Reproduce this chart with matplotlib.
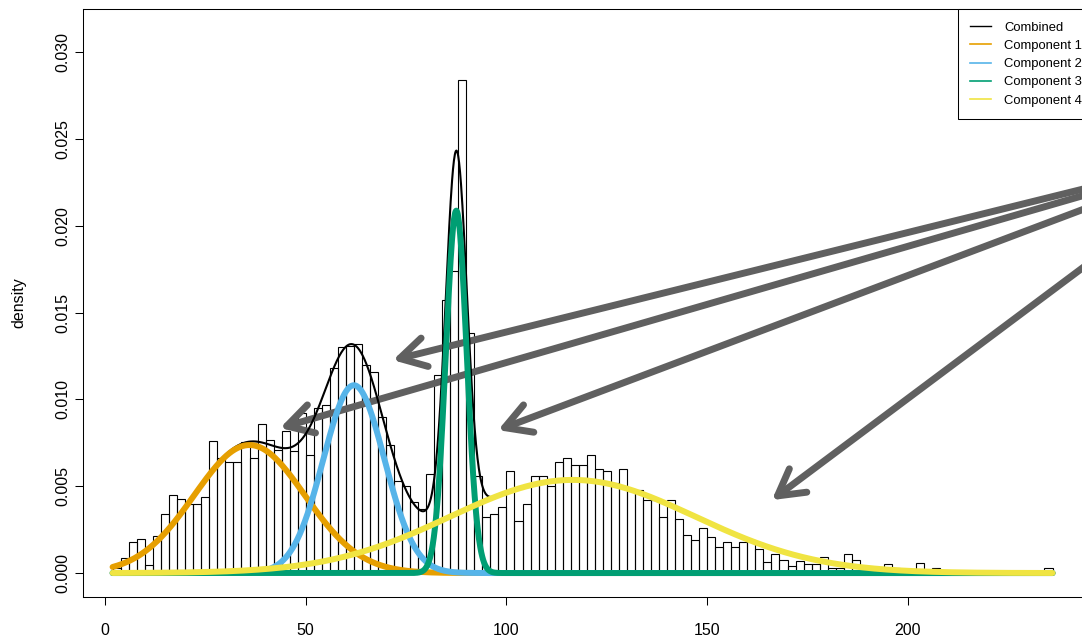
"""
Gaussian mixture fit over a histogram of the raw values, R-style layout.
"""

import matplotlib
matplotlib.use("Agg")
import matplotlib.pyplot as plt
from matplotlib.lines import Line2D
import numpy as np

plt.rcParams.update({
    "font.family": ["Liberation Sans", "DejaVu Sans"],
    "font.size": 11.5,
    "axes.linewidth": 0.75,
})

# histogram: bins of width 2, left edges from 2 to 234
bin_width = 2
bin_left = np.arange(2, 236, bin_width)
density = [
    0.0003, 0.00085, 0.0018, 0.00196, 0.00046, 0.00213, 0.0034, 0.0045,
    0.00424, 0.00395, 0.00395, 0.00436, 0.0076, 0.0066, 0.0064, 0.0064,
    0.00756, 0.0066, 0.0086, 0.00766, 0.0071, 0.0082, 0.0070, 0.0092,
    0.0068, 0.0095, 0.0097, 0.0118, 0.0130, 0.0131, 0.0132, 0.0120,
    0.0116, 0.0090, 0.0074, 0.0053, 0.0050, 0.0041, 0.0037, 0.0057,
    0.0114, 0.0157, 0.0174, 0.0284, 0.0138, 0.0056, 0.0032, 0.0034,
    0.0038, 0.0059, 0.0030, 0.0040, 0.0056, 0.0056, 0.0050, 0.0064,
    0.0066, 0.0062, 0.0062, 0.0068, 0.0060, 0.0059, 0.0052, 0.0060,
    0.0048, 0.0048, 0.0042, 0.0042, 0.0032, 0.0042, 0.0031, 0.0022,
    0.0019, 0.0026, 0.0021, 0.0015, 0.0018, 0.0015, 0.0018, 0.0019,
    0.0014, 0.00065, 0.0011, 0.00075, 0.0004, 0.0007, 0.0005, 0.0005,
    0.0009, 0.0003, 0.0003, 0.0011, 0.00075, 0.0004, 0.0003, 0.0,
    0.0005, 0.0003, 0.0, 0.0, 0.0006, 0.0, 0.0003, 0.0,
    0.0, 0.0, 0.0, 0.0, 0.0, 0.0, 0.0, 0.0,
    0.0, 0.0, 0.0, 0.0, 0.0003,
]

# fitted mixture components (weight, mean, sd)
comp_labels = ["Component 1", "Component 2", "Component 3", "Component 4"]
comp_colors = ["#E69F00", "#56B4E9", "#009E73", "#F0E442"]
comp_weight = [0.255, 0.206, 0.136, 0.410]
comp_mean = [36.0, 62.0, 87.5, 116.5]
comp_sd = [13.8, 7.6, 2.6, 30.5]
data_range = (1.9, 236.0)

# annotation arrows: shared tail off to the right, one tip per feature
arrow_tail = (282.7, 0.02435)
arrow_tip_x = [71.7, 43.6, 97.9, 166.1]
arrow_tip_y = [0.01226, 0.00835, 0.00823, 0.0042]


def normal_pdf(x, mu, sd):
    return np.exp(-0.5 * ((x - mu) / sd) ** 2) / (sd * np.sqrt(2 * np.pi))


W, H = 1082, 637
fig = plt.figure(figsize=(W / 100, H / 100), dpi=100)
ax = fig.add_axes([83 / W, 1 - 597 / H, (1100.7 - 83) / W, (597 - 9) / H])

ax.bar(bin_left, density, width=bin_width, align="edge",
       facecolor="none", edgecolor="black", linewidth=0.8, zorder=1)

for tx, ty in zip(arrow_tip_x, arrow_tip_y):
    ax.annotate("", xy=(tx, ty), xytext=arrow_tail,
                arrowprops=dict(arrowstyle="->, head_length=1.85, head_width=1.05",
                                mutation_scale=10, lw=5, color="#606060",
                                shrinkA=0, shrinkB=0, capstyle="round",
                                joinstyle="round"),
                zorder=2, annotation_clip=False)

xs = np.linspace(data_range[0], data_range[1], 2000)
parts = [w * normal_pdf(xs, m, s) for w, m, s in zip(comp_weight, comp_mean, comp_sd)]
ax.plot(xs, np.sum(parts, axis=0), color="black", lw=1.5, zorder=3)
for ys, col in zip(parts, comp_colors):
    ax.plot(xs, ys, color=col, lw=4.3, solid_capstyle="round", zorder=4)

ax.set_xlim(-5.47, 248)
ax.set_ylim(-0.00138, 0.03248)
ax.set_xticks([0, 50, 100, 150, 200])
ax.set_yticks([0, 0.005, 0.010, 0.015, 0.020, 0.025, 0.030])
ax.set_yticklabels([f"{v:.3f}" for v in ax.get_yticks()])
ax.tick_params(axis="both", direction="out", length=6, width=0.75)
ax.tick_params(axis="x", pad=13)
ax.tick_params(axis="y", pad=3)
plt.setp(ax.get_yticklabels(), rotation=90, va="center")
ax.set_ylabel("density")
ax.yaxis.set_label_coords(-0.056, 0.5)

handles = [Line2D([], [], color="black", lw=1)]
handles += [Line2D([], [], color=c, lw=1.2) for c in comp_colors]
leg = fig.legend(handles, ["Combined"] + comp_labels, loc="upper left",
                 bbox_to_anchor=(958 / W, 1 - 9 / H), bbox_transform=fig.transFigure,
                 borderaxespad=0, fontsize=9.4, fancybox=False, framealpha=1,
                 edgecolor="black", borderpad=0.95, labelspacing=0.47,
                 handlelength=1.6, handletextpad=1.0)
leg.get_frame().set_linewidth(0.75)

fig.savefig("out.png", dpi=100)
plt.close(fig)
